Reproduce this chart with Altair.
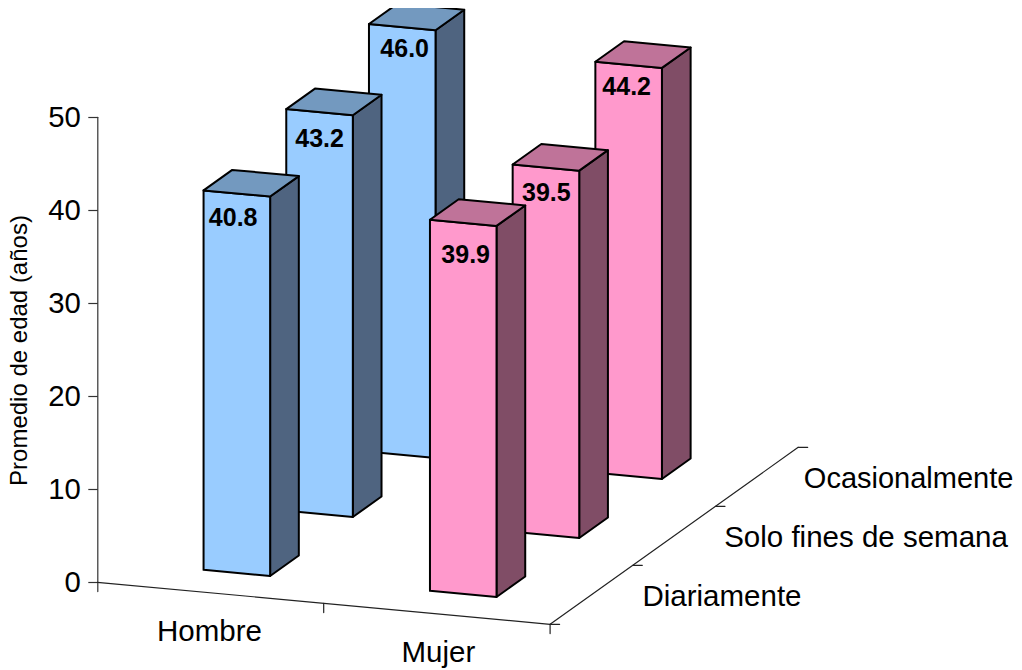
import altair as alt
import pandas as pd

# ---- values ----
genders = ["Hombre", "Mujer"]
frequencies = ["Diariamente", "Solo fines de semana", "Ocasionalmente"]
hombre_values = [40.8, 43.2, 46.0]
mujer_values = [39.9, 39.5, 44.2]
y_ticks = [0, 10, 20, 30, 40, 50]
y_title = "Promedio de edad (años)"

# ---- oblique projection of the 3D chart (layout, in screen pixels) ----
ORIGIN = (97.3, 582.3)
G_STEP = (226.4, 21.0)      # one gender along the floor
D_STEP = (82.7, -59.0)      # one frequency into the depth
PX_PER_UNIT = 9.3
BAR_A = 0.347               # bar start inside a gender slot
BAR_W = 0.294               # bar width in a gender slot
BAR_B = 0.335               # bar start inside a depth slot
BAR_D = 0.347               # bar depth in a depth slot
TOP_PX, BOTTOM_PX = 8, 662
LEFT_PX, RIGHT_PX = ORIGIN[0], 1014
FONT = "Liberation Sans"

# label offsets from the bar's front-top-left corner, in pixels (per gender, per frequency)
LABEL_OFFSET = {
    (0, 0): (29.6, 27), (0, 1): (33.3, 29), (0, 2): (35.7, 24),
    (1, 0): (35.7, 34), (1, 1): (33.7, 27.7), (1, 2): (31.3, 24),
}
GENDER_LABEL_DX = [-1, 1.5]
FREQ_LABEL_DX = [51, 50, 47]
FREQ_LABEL_SIZE = [29.5, 29.5, 29]
COLORS = {
    0: {"front": "#99CCFF", "side": "#4F6480", "top": "#7399BF"},
    1: {"front": "#FF99CC", "side": "#804D66", "top": "#BF7399"},
}


def project(a, b, h=0.0):
    """Floor coordinates (a, b) and height h -> (screen x, value-axis y)."""
    sx = ORIGIN[0] + a * G_STEP[0] + b * D_STEP[0]
    sy = a * G_STEP[1] + b * D_STEP[1]
    return sx, h - sy / PX_PER_UNIT


x_scale = alt.Scale(domain=[LEFT_PX, RIGHT_PX], nice=False, zero=False)
y_scale = alt.Scale(
    domain=[(ORIGIN[1] - BOTTOM_PX) / PX_PER_UNIT, (ORIGIN[1] - TOP_PX) / PX_PER_UNIT],
    nice=False, zero=False,
)
y_axis = alt.Axis(
    values=y_ticks, grid=False, domain=False, tickSize=9.5, tickColor="#333333",
    tickWidth=1.2, labelFont=FONT, labelFontSize=29.3, labelColor="black",
    labelPadding=7.5, title=y_title, titleFont=FONT, titleFontSize=24,
    titleFontWeight="normal", titleColor="black", titleX=-65.5, titleY=342,
    titleAngle=270,
)
X = alt.X("x:Q", scale=x_scale, axis=None)
Y = alt.Y("y:Q", scale=y_scale, axis=y_axis)


def poly(points, stroke="black", width=2.0, fill=None):
    df = pd.DataFrame({"x": [p[0] for p in points], "y": [p[1] for p in points],
                       "i": list(range(len(points)))})
    kw = dict(stroke=stroke, strokeWidth=width, strokeJoin="round", strokeCap="round")
    if fill:
        kw["fill"] = fill
    return alt.Chart(df).mark_line(**kw).encode(x=X, y=Y, order=alt.Order("i:Q"))


def text(sx, sy_val, label, size, align="center", weight="normal"):
    df = pd.DataFrame({"x": [sx], "y": [sy_val], "t": [label]})
    return alt.Chart(df).mark_text(
        font=FONT, fontSize=size, align=align, baseline="alphabetic",
        fontWeight=weight, color="black",
    ).encode(x=X, y=Y, text="t:N")


layers = []

# value axis line
layers.append(poly([(LEFT_PX + 0.5, -1.0), (LEFT_PX + 0.5, max(y_ticks))], "#333333", 1.2))

# floor lines and ticks
n_g, n_f = len(genders), len(frequencies)
floor_color, floor_w = "#222222", 1.2
layers.append(poly([project(0, 0), project(n_g, 0), project(n_g, n_f)], floor_color, floor_w))
for g in range(1, n_g + 1):
    p = project(g, 0)
    layers.append(poly([p, (p[0], p[1] - 1.0)], floor_color, floor_w))
for f in range(0, n_f + 1):
    p = project(n_g, f)
    layers.append(poly([p, (p[0] + 9.5, p[1])], floor_color, floor_w))

# bars, painted back to front
for g, vals in enumerate([hombre_values, mujer_values]):
    for f in reversed(range(n_f)):
        h = vals[f]
        a0, a1 = g + BAR_A, g + BAR_A + BAR_W
        b0, b1 = f + BAR_B, f + BAR_B + BAR_D
        c = COLORS[g]
        layers.append(poly([project(a1, b0), project(a1, b1), project(a1, b1, h),
                            project(a1, b0, h), project(a1, b0)], fill=c["side"]))
        layers.append(poly([project(a0, b0), project(a1, b0), project(a1, b0, h),
                            project(a0, b0, h), project(a0, b0)], fill=c["front"]))
        layers.append(poly([project(a0, b0, h), project(a1, b0, h), project(a1, b1, h),
                            project(a0, b1, h), project(a0, b0, h)], fill=c["top"]))
        corner = project(a0, b0, h)
        dx, dy = LABEL_OFFSET[(g, f)]
        # dy is to the vertical centre of the digits
        layers.append(text(corner[0] + dx, corner[1] - (dy + 8.8) / PX_PER_UNIT,
                           f"{h:.1f}", 25, weight="bold"))

# category labels
for g, name in enumerate(genders):
    p = project(g + 0.5, 0)
    layers.append(text(p[0] + GENDER_LABEL_DX[g], p[1] - 48.5 / PX_PER_UNIT, name, 29.5))
for f, name in enumerate(frequencies):
    p = project(n_g, f + 0.5)
    layers.append(text(p[0] + FREQ_LABEL_DX[f], p[1] - 11.5 / PX_PER_UNIT, name,
                       FREQ_LABEL_SIZE[f], align="left"))

chart = alt.layer(*layers).properties(
    width=RIGHT_PX - LEFT_PX,
    height=BOTTOM_PX - TOP_PX,
    autosize=alt.AutoSizeParams(type="none"),
    padding={"left": LEFT_PX - 8, "top": 0, "right": 0, "bottom": 8},
    background="white",
).configure_view(stroke=None)

chart.save("out.html", embed_options={"renderer": "svg", "actions": False})
